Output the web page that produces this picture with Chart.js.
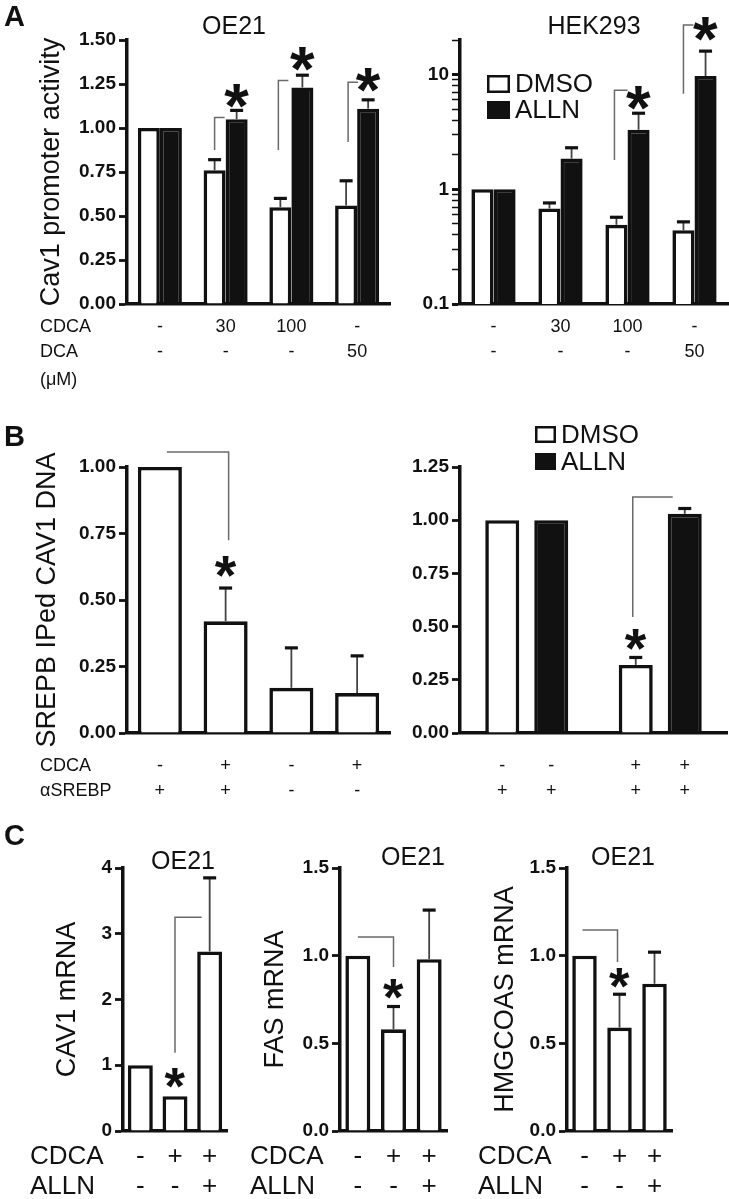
<!DOCTYPE html>
<html><head><meta charset="utf-8">
<script src="https://cdn.jsdelivr.net/npm/chart.js@4/dist/chart.umd.min.js"></script>
<style>
html,body{margin:0;padding:0;background:#fff;}
#page{position:relative;width:729px;height:1199px;overflow:hidden;background:#fff;}
#page canvas{position:absolute;}
</style></head><body><div id="page"></div>
<script>
// ================= DATA =================
// Panel A (Cav1 promoter activity)
const aCategories = [['-','-'],['30','-'],['100','-'],['-','50']];
const aRowLabels = ['CDCA','DCA','(\u03bcM)'];
const seriesNames = ['DMSO','ALLN'];
const aOE21Dmso    = [1.00, 0.76, 0.55, 0.56];
const aOE21DmsoErr = [null, 0.82, 0.60, 0.70];
const aOE21Alln    = [1.00, 1.05, 1.23, 1.11];
const aOE21AllnErr = [null, 1.10, 1.30, 1.16];
const aOE21Ticks   = [0, 0.25, 0.5, 0.75, 1.0, 1.25, 1.5];
const aHekDmso     = [1.00, 0.68, 0.49, 0.44];
const aHekDmsoErr  = [null, 0.76, 0.57, 0.52];
const aHekAlln     = [1.00, 1.85, 3.3, 9.7];
const aHekAllnErr  = [null, 2.3, 4.6, 16.0];
const aHekTicks    = [0.1,0.2,0.3,0.4,0.5,0.6,0.7,0.8,0.9,1,2,3,4,5,6,7,8,9,10,20];
const aHekTickLabels = {0.1:'0.1', 1:'1', 10:'10'};
// Panel B (SREBP IPed CAV1 DNA)
const bLeftCategories = [['-','+'],['+','+'],['-','-'],['+','-']];
const bRowLabels = ['CDCA','\u03b1SREBP'];
const bLeftValues = [1.00, 0.42, 0.17, 0.15];
const bLeftErr    = [null, 0.545, 0.32, 0.29];
const bLeftTicks  = [0, 0.25, 0.5, 0.75, 1.0];
const bRightGroups = ['CDCA -','CDCA +'];
const bRightDmso    = [1.00, 0.32];
const bRightDmsoErr = [null, 0.355];
const bRightAlln    = [1.00, 1.03];
const bRightAllnErr = [null, 1.055];
const bRightCdcaRow  = ['-','-','+','+'];
const bRightSrebpRow = ['+','+','+','+'];
const bRightTicks = [0, 0.25, 0.5, 0.75, 1.0, 1.25];
// Panel C (mRNA, OE21)
const cCategories = [['-','-'],['+','-'],['+','+']];
const cRowLabels = ['CDCA','ALLN'];
const cCav1    = [1.00, 0.53, 2.73];
const cCav1Err = [null, null, 3.85];
const cCav1Ticks = [0,1,2,3,4];
const cFas     = [1.00, 0.58, 0.98];
const cFasErr  = [null, 0.71, 1.26];
const cHmg     = [1.00, 0.59, 0.84];
const cHmgErr  = [null, 0.78, 1.02];
const cTicks15 = [0, 0.5, 1.0, 1.5];

// ================= RENDERING =================
const FONT = '"Liberation Sans", Arial, Helvetica, sans-serif';
Chart.defaults.font.family = FONT;
Chart.defaults.color = '#111';
const INK = '#111';
const page = document.getElementById('page');

function drawStar(ctx, cx, cy, h){
  ctx.save();
  ctx.font = 'bold 100px ' + FONT;
  const m = ctx.measureText('*');
  const gh = m.actualBoundingBoxAscent + m.actualBoundingBoxDescent;
  const fs = 100 * h / gh;
  ctx.font = 'bold ' + fs + 'px ' + FONT;
  const m2 = ctx.measureText('*');
  ctx.textAlign = 'left'; ctx.textBaseline = 'alphabetic'; ctx.fillStyle = INK;
  const x = cx - (m2.actualBoundingBoxRight - m2.actualBoundingBoxLeft) / 2;
  const y = cy + (m2.actualBoundingBoxAscent - m2.actualBoundingBoxDescent) / 2;
  ctx.fillText('*', x, y);
  ctx.restore();
}

function decor(cfg){
  return {
    id: 'decor',
    afterDatasetsDraw(chart){
      const ctx = chart.ctx, ys = chart.scales.y;
      ctx.save();
      (cfg.errors || []).forEach((arr, d) => {
        const meta = chart.getDatasetMeta(d);
        arr.forEach((e, i) => {
          if (e == null) return;
          const el = meta.data[i];
          const ye = ys.getPixelForValue(e);
          ctx.strokeStyle = '#444'; ctx.lineWidth = 1.8;
          ctx.beginPath(); ctx.moveTo(el.x, el.y); ctx.lineTo(el.x, ye); ctx.stroke();
          ctx.strokeStyle = INK; ctx.lineWidth = 3.2;
          ctx.beginPath(); ctx.moveTo(el.x - 6.5, ye); ctx.lineTo(el.x + 6.5, ye); ctx.stroke();
        });
      });
      (cfg.brackets || []).forEach(pts => {
        ctx.strokeStyle = '#6a6a6a'; ctx.lineWidth = 1.5; ctx.beginPath();
        pts.forEach((p, k) => {
          const el = chart.getDatasetMeta(p[0]).data[p[1]];
          const px = el.x + p[2], py = ys.getPixelForValue(p[3]);
          if (k) ctx.lineTo(px, py); else ctx.moveTo(px, py);
        });
        ctx.stroke();
      });
      (cfg.stars || []).forEach(s => {
        const el = chart.getDatasetMeta(s[0]).data[s[1]];
        drawStar(ctx, el.x, ys.getPixelForValue(s[2]), s[3]);
      });
      ctx.restore();
    },
    afterDraw(chart){
      const ctx = chart.ctx;
      ctx.save();
      ctx.textBaseline = 'middle'; ctx.fillStyle = INK;
      (cfg.texts || []).forEach(t => {
        ctx.font = t.f + ' ' + FONT;
        ctx.textAlign = t.a || 'left';
        ctx.fillText(t.t, t.x - cfg.ox, t.y - cfg.oy);
      });
      (cfg.legend || []).forEach(l => {
        const x = l.x - cfg.ox, y = l.y - cfg.oy;
        if (l.fill === 'white') {
          ctx.fillStyle = '#fff'; ctx.fillRect(x, y, l.w, l.h);
          ctx.strokeStyle = INK; ctx.lineWidth = 2.5; ctx.strokeRect(x + 1.25, y + 1.25, l.w - 2.5, l.h - 2.5);
        } else {
          ctx.fillStyle = INK; ctx.fillRect(x, y, l.w, l.h);
        }
        ctx.fillStyle = INK; ctx.font = l.f + ' ' + FONT; ctx.textAlign = 'left';
        ctx.fillText(l.label, x + l.w + 5, y + l.h / 2 + 1);
      });
      if (cfg.barLabels) {
        const bl = cfg.barLabels;
        ctx.font = bl.f + ' ' + FONT; ctx.textAlign = 'center';
        bl.rows.forEach((row, r) => {
          row.forEach((txt, k) => {
            const ref = bl.order[k];
            const el = chart.getDatasetMeta(ref[0]).data[ref[1]];
            ctx.fillText(txt, el.x, bl.y[r] - cfg.oy);
          });
        });
      }
      ctx.restore();
    }
  };
}

function makeBar(o){
  const c = document.createElement('canvas');
  c.width = o.width; c.height = o.height;
  c.style.left = o.left + 'px'; c.style.top = o.top + 'px';
  c.style.width = o.width + 'px'; c.style.height = o.height + 'px';
  page.appendChild(c);
  const yW = o.area.L - o.left, xH = o.top + o.height - o.area.B;
  const d = o.decor; d.ox = o.left; d.oy = o.top;
  new Chart(c, {
    type: 'bar',
    data: {
      labels: o.labels,
      datasets: o.datasets.map(ds => ({
        label: ds.label, data: ds.data,
        backgroundColor: ds.fill, borderColor: INK, borderWidth: 3.6,
        categoryPercentage: o.catPct, barPercentage: o.barPct
      }))
    },
    options: {
      responsive: false, animation: false, devicePixelRatio: 1,
      layout: {padding: {left: 0, bottom: 0, top: o.area.T - o.top, right: o.left + o.width - o.area.R}},
      plugins: {legend: {display: false}, tooltip: {enabled: false}, title: {display: false}},
      scales: {
        x: {
          type: 'category', offset: true,
          grid: {display: false, drawTicks: false},
          border: {display: true, width: 3.5, color: INK},
          ticks: {display: o.xTicks !== false, font: {size: o.xFont, lineHeight: o.xLineH / o.xFont},
                  color: INK, padding: o.xPad, maxRotation: 0, minRotation: 0, autoSkip: false},
          afterFit(s){ s.height = xH; }
        },
        y: {
          type: o.yType || 'linear', min: o.yMin, max: o.yMax,
          grid: {drawOnChartArea: false, drawTicks: true, tickLength: 8, color: INK,
                 tickWidth: (ctx) => (o.isMajor ? (o.isMajor(ctx.tick && ctx.tick.value) ? 3 : 1.5) : 2.8)},
          border: {display: true, width: 3.5, color: INK},
          ticks: {font: {size: 19, weight: 'bold'}, color: INK, padding: 3, autoSkip: false,
                  callback: (v) => o.yFmt(v)},
          afterBuildTicks(s){ s.ticks = o.yTicks.map(v => ({value: v})); },
          afterFit(s){ s.width = yW; },
          title: {display: true, text: o.yTitle, color: INK, font: {size: o.yTitleSize || 27},
                  padding: {top: o.yTitlePad, bottom: 0}}
        }
      }
    },
    plugins: [decor(d)]
  });
}

// ---- A left: OE21 ----
makeBar({
  left: 0, top: 0, width: 400, height: 400, area: {L: 127, T: 40, R: 390, B: 304},
  labels: aCategories, xFont: 18, xLineH: 25, xPad: 11, catPct: 0.67, barPct: 1.0,
  datasets: [{label: seriesNames[0], data: aOE21Dmso, fill: '#fff'}, {label: seriesNames[1], data: aOE21Alln, fill: INK}],
  yMin: 0, yMax: 1.5, yTicks: aOE21Ticks, yFmt: v => v.toFixed(2),
  yTitle: 'Cav1 promoter activity', yTitlePad: 35,
  decor: {
    errors: [aOE21DmsoErr, aOE21AllnErr],
    brackets: [
      [[0,1,0,0.875],[0,1,0,1.06],[0,1,10,1.06]],
      [[0,2,-2,0.875],[0,2,-2,1.27],[0,2,8,1.27]],
      [[0,3,2,0.92],[0,3,2,1.26],[0,3,12,1.26]]
    ],
    stars: [[1,1,1.18,24],[1,2,1.39,24],[1,3,1.27,24]],
    texts: [
      {t: 'A', x: 4, y: 18, f: 'bold 29px'},
      {t: 'OE21', x: 234, y: 27, f: '25px', a: 'center'},
      {t: aRowLabels[0], x: 40, y: 327.5, f: '18px'},
      {t: aRowLabels[1], x: 40, y: 352.5, f: '18px'},
      {t: aRowLabels[2], x: 40, y: 380, f: '18px'}
    ]
  }
});

// ---- A right: HEK293 (log) ----
makeBar({
  left: 400, top: 0, width: 329, height: 400, area: {L: 460, T: 40, R: 728, B: 304},
  labels: aCategories, xFont: 18, xLineH: 25, xPad: 11, catPct: 0.66, barPct: 1.0,
  datasets: [{label: seriesNames[0], data: aHekDmso, fill: '#fff'}, {label: seriesNames[1], data: aHekAlln, fill: INK}],
  yType: 'logarithmic', yMin: 0.1, yMax: 20, yTicks: aHekTicks,
  yFmt: v => aHekTickLabels[v] || '', isMajor: v => aHekTickLabels[v] !== undefined,
  yTitle: '', yTitlePad: 0,
  decor: {
    errors: [aHekDmsoErr, aHekAllnErr],
    brackets: [
      [[0,2,-2,1.8],[0,2,-2,7.3],[0,2,11,7.3]],
      [[0,3,0,6.8],[0,3,0,27],[0,3,10,27]]
    ],
    stars: [[1,2,6.3,24],[1,3,25,24]],
    texts: [{t: 'HEK293', x: 594, y: 27, f: '25px', a: 'center'}],
    legend: [
      {x: 487, y: 75, w: 23, h: 18, fill: 'white', label: seriesNames[0], f: '26px'},
      {x: 487, y: 101, w: 23, h: 18, fill: 'black', label: seriesNames[1], f: '26px'}
    ]
  }
});

// ---- B left ----
makeBar({
  left: 0, top: 400, width: 400, height: 420, area: {L: 127, T: 467, R: 390, B: 733},
  labels: bLeftCategories, xFont: 18, xLineH: 25, xPad: 21, catPct: 0.67, barPct: 1.0,
  datasets: [{label: seriesNames[0], data: bLeftValues, fill: '#fff'}],
  yMin: 0, yMax: 1.0, yTicks: bLeftTicks, yFmt: v => v.toFixed(2),
  yTitle: 'SREPB IPed CAV1 DNA', yTitlePad: 31,
  decor: {
    errors: [bLeftErr],
    brackets: [[[0,0,7,1.056],[0,1,3,1.056],[0,1,3,0.725]]],
    stars: [[0,1,0.625,21]],
    texts: [
      {t: 'B', x: 4, y: 438, f: 'bold 29px'},
      {t: bRowLabels[0], x: 40, y: 766.5, f: '18px'},
      {t: bRowLabels[1], x: 40, y: 791.5, f: '18px'}
    ]
  }
});

// ---- B right ----
makeBar({
  left: 400, top: 400, width: 329, height: 420, area: {L: 460, T: 467, R: 727, B: 733},
  labels: bRightGroups, xTicks: false, xFont: 18, xLineH: 25, xPad: 21, catPct: 0.734, barPct: 0.694,
  datasets: [{label: seriesNames[0], data: bRightDmso, fill: '#fff'}, {label: seriesNames[1], data: bRightAlln, fill: INK}],
  yMin: 0, yMax: 1.25, yTicks: bRightTicks, yFmt: v => v.toFixed(2),
  yTitle: '', yTitlePad: 0,
  decor: {
    errors: [bRightDmsoErr, bRightAllnErr],
    brackets: [[[0,1,-3,0.545],[0,1,-3,1.109],[1,1,-12,1.109]]],
    stars: [[0,1,0.44,21]],
    legend: [
      {x: 535, y: 426, w: 21, h: 17, fill: 'white', label: seriesNames[0], f: '26px'},
      {x: 535, y: 453, w: 21, h: 17, fill: 'black', label: seriesNames[1], f: '26px'}
    ],
    barLabels: {f: '18px', y: [766.5, 791.5], rows: [bRightCdcaRow, bRightSrebpRow],
                order: [[0,0],[1,0],[0,1],[1,1]]}
  }
});

// ---- C1: CAV1 mRNA ----
makeBar({
  left: 0, top: 820, width: 245, height: 379, area: {L: 123, T: 868, R: 227, B: 1131},
  labels: cCategories, xFont: 26, xLineH: 30, xPad: 11, catPct: 0.72, barPct: 1.0,
  datasets: [{label: 'OE21', data: cCav1, fill: '#fff'}],
  yMin: 0, yMax: 4, yTicks: cCav1Ticks, yFmt: v => String(v),
  yTitle: 'CAV1 mRNA', yTitlePad: 51,
  decor: {
    errors: [cCav1Err],
    brackets: [[[0,1,0,1.19],[0,1,0,3.25],[0,2,-8,3.25]]],
    stars: [[0,1,0.8,20]],
    texts: [
      {t: 'C', x: 4, y: 837, f: 'bold 29px'},
      {t: 'OE21', x: 183, y: 862, f: '25px', a: 'center'},
      {t: cRowLabels[0], x: 30, y: 1157, f: '26px'},
      {t: cRowLabels[1], x: 30, y: 1187, f: '26px'}
    ]
  }
});

// ---- C2: FAS mRNA ----
makeBar({
  left: 245, top: 820, width: 230, height: 379, area: {L: 340, T: 868, R: 447, B: 1131},
  labels: cCategories, xFont: 26, xLineH: 30, xPad: 11, catPct: 0.7, barPct: 1.0,
  datasets: [{label: 'OE21', data: cFas, fill: '#fff'}],
  yMin: 0, yMax: 1.5, yTicks: cTicks15, yFmt: v => v.toFixed(1),
  yTitle: 'FAS mRNA', yTitlePad: 14,
  decor: {
    errors: [cFasErr],
    brackets: [[[0,0,0,1.107],[0,1,0,1.107],[0,1,0,0.935]]],
    stars: [[0,1,0.81,20]],
    texts: [
      {t: 'OE21', x: 413, y: 858, f: '25px', a: 'center'},
      {t: cRowLabels[0], x: 250, y: 1157, f: '26px'},
      {t: cRowLabels[1], x: 250, y: 1187, f: '26px'}
    ]
  }
});

// ---- C3: HMGCOAS mRNA ----
makeBar({
  left: 475, top: 820, width: 254, height: 379, area: {L: 567, T: 868, R: 672, B: 1131},
  labels: cCategories, xFont: 26, xLineH: 30, xPad: 11, catPct: 0.7, barPct: 1.0,
  datasets: [{label: 'OE21', data: cHmg, fill: '#fff'}],
  yMin: 0, yMax: 1.5, yTicks: cTicks15, yFmt: v => v.toFixed(1),
  yTitle: 'HMGCOAS mRNA', yTitlePad: 14,
  decor: {
    errors: [cHmgErr],
    brackets: [[[0,0,-2,1.147],[0,1,-2,1.147],[0,1,-2,0.964]]],
    stars: [[0,1,0.87,20]],
    texts: [
      {t: 'OE21', x: 623, y: 858, f: '25px', a: 'center'},
      {t: cRowLabels[0], x: 478, y: 1157, f: '26px'},
      {t: cRowLabels[1], x: 478, y: 1187, f: '26px'}
    ]
  }
});
</script>
</body></html>
